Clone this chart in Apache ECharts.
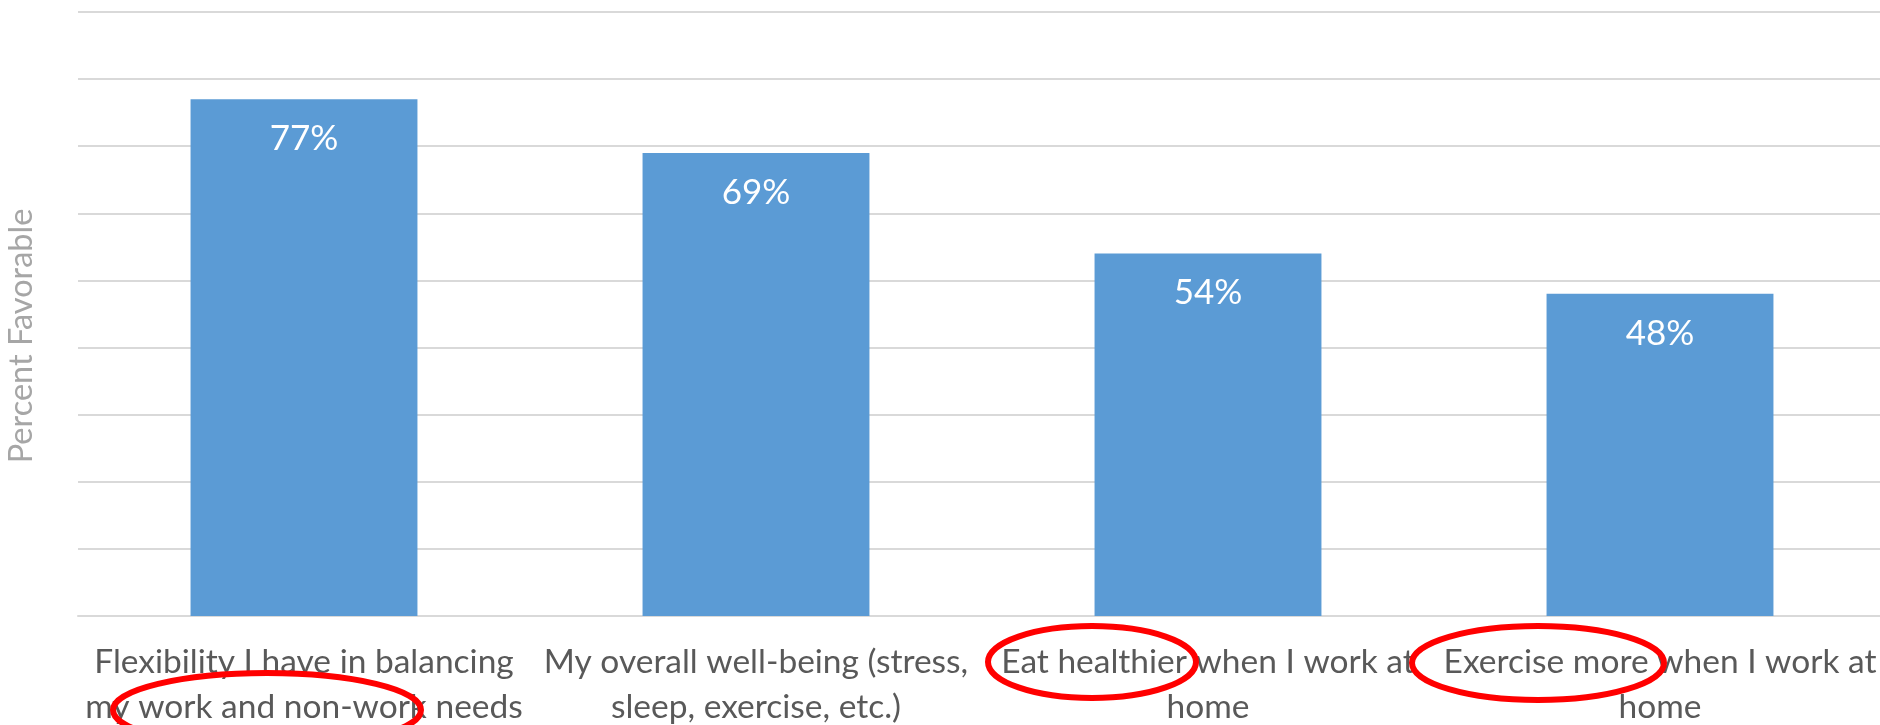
<!DOCTYPE html>
<html>
<head>
<meta charset="utf-8">
<script src="https://cdn.jsdelivr.net/npm/echarts@6/dist/echarts.min.js"></script>
<style>html,body{margin:0;padding:0;background:#fff}#c{width:1880px;height:725px}</style>
</head>
<body>
<div id="c"></div>
<script>
const categories = [
  "Flexibility I have in balancing\nmy work and non-work needs",
  "My overall well-being (stress,\nsleep, exercise, etc.)",
  "Eat healthier when I work at\nhome",
  "Exercise more when I work at\nhome"
];
const values = [77, 69, 54, 48];
const yMin = 0, yMax = 90, yInterval = 10;
const yAxisTitle = "Percent Favorable";

const FONT = "Lato";
const chart = echarts.init(document.getElementById('c'), null, {renderer: 'canvas'});
chart.setOption({
  animation: false,
  backgroundColor: '#ffffff',
  grid: {left: 78, right: -6, top: 12, bottom: 109, containLabel: false, outerBoundsMode: 'none'},
  xAxis: {
    type: 'category',
    data: categories,
    axisLine: {show: true, lineStyle: {color: '#d9d9d9', width: 2}},
    axisTick: {show: false},
    axisLabel: {
      interval: 0, color: '#595959', fontFamily: FONT, fontSize: 33.5,
      lineHeight: 45, margin: 24
    }
  },
  yAxis: {
    type: 'value', min: yMin, max: yMax, interval: yInterval,
    name: yAxisTitle, nameLocation: 'middle', nameGap: 40,
    nameTextStyle: {color: '#a6a6a6', fontFamily: FONT, fontSize: 32.5, padding: [0, 44, 0, 0]},
    axisLine: {show: false}, axisTick: {show: false},
    axisLabel: {show: false},
    splitLine: {lineStyle: {color: '#d9d9d9', width: 2}}
  },
  series: [{
    type: 'bar',
    data: values,
    barWidth: '50.2%',
    itemStyle: {color: '#5b9bd5'},
    label: {
      show: true, position: 'insideTop', distance: 22,
      formatter: p => p.value + '%',
      color: '#ffffff', fontFamily: FONT, fontSize: 35
    }
  }]
});

function drawEllipses() {
  const cx = i => chart.convertToPixel({xAxisIndex: 0}, i);
  chart.setOption({
    graphic: [
      {type: 'ellipse', shape: {cx: cx(0) - 37, cy: 710, rx: 154, ry: 37},
        style: {fill: 'none', stroke: '#ff0000', lineWidth: 6}, z: 100},
      {type: 'ellipse', shape: {cx: cx(2) - 116, cy: 662, rx: 104, ry: 36},
        style: {fill: 'none', stroke: '#ff0000', lineWidth: 6}, z: 100},
      {type: 'ellipse', shape: {cx: cx(3) - 122, cy: 663, rx: 126, ry: 37},
        style: {fill: 'none', stroke: '#ff0000', lineWidth: 6}, z: 100}
    ]
  });
}
drawEllipses();
</script>
</body>
</html>
